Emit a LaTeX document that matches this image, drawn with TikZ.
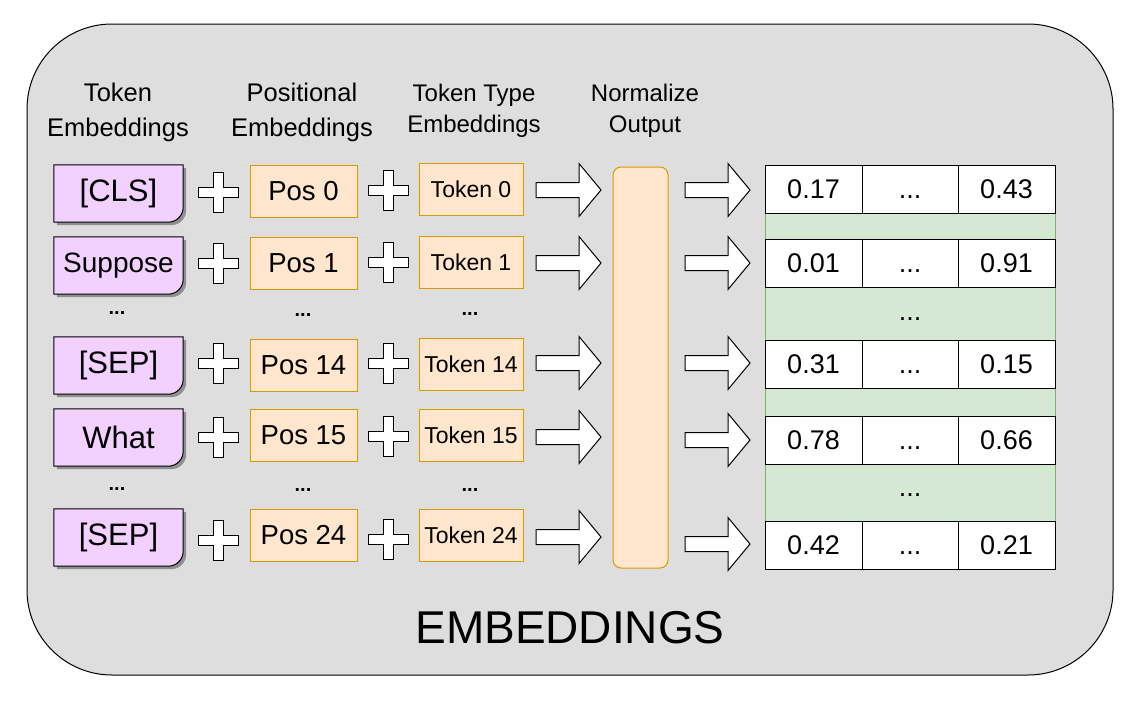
\documentclass[tikz,border=0pt]{standalone}
\usepackage{fontspec}
\setmainfont{Liberation Sans}
\usetikzlibrary{calc}
\pgfdeclarelayer{bg}
\pgfdeclarelayer{mid}
\pgfsetlayers{bg,mid,main}
\definecolor{bggray}{HTML}{DEDEDE}
\definecolor{tokpurple}{HTML}{F2D0FF}
\definecolor{orfill}{HTML}{FFE6CC}
\definecolor{ordraw}{HTML}{D79B00}
\definecolor{grfill}{HTML}{D5E8D4}
\definecolor{grdraw}{HTML}{82B366}
\newcommand{\tokshape}[1]{%
\begin{pgfonlayer}{mid}
\fill[black,opacity=.35] ([shift={(3pt,-3pt)}]#1.north west) -- ([shift={(3pt,-3pt)}]#1.north east) -- ([shift={(3pt,12pt)}]#1.south east) arc[start angle=0,end angle=-90,radius=15pt] -- ([shift={(3pt,-3pt)}]#1.south west) -- cycle;
\draw[fill=tokpurple,line width=1pt] (#1.north west) -- (#1.north east) -- ([yshift=15pt]#1.south east) arc[start angle=0,end angle=-90,radius=15pt] -- (#1.south west) -- cycle;
\end{pgfonlayer}}
\tikzset{
  tokbox/.style={minimum width=129pt,minimum height=57pt,inner sep=0pt,font=\fontsize{31}{34}\selectfont},
  posbox/.style={draw=ordraw,fill=orfill,line width=1pt,minimum width=107pt,minimum height=52pt,inner sep=0pt,font=\fontsize{27.5}{30}\selectfont},
  ttbox/.style={draw=ordraw,fill=orfill,line width=1pt,minimum width=104pt,minimum height=52pt,inner sep=0pt,font=\fontsize{23}{26}\selectfont},
  cell/.style={draw=black,fill=white,line width=1pt,minimum height=48pt,inner sep=0pt,font=\fontsize{27}{30}\selectfont},
  head/.style={align=center,font=\fontsize{25.5}{35}\selectfont},
  headb/.style={align=center,font=\fontsize{24}{31}\selectfont},
  dots/.style={font=\fontsize{20}{22}\selectfont\bfseries},
  pics/plussign/.style={code={\draw[fill=white,line width=1pt] (-5,-20) -- (5,-20) -- (5,-5) -- (20,-5) -- (20,5) -- (5,5) -- (5,20) -- (-5,20) -- (-5,5) -- (-20,5) -- (-20,-5) -- (-5,-5) -- cycle;}},
  pics/blockarrow/.style={code={\draw[fill=white,line width=1pt] (0,-7.5) -- (43,-7.5) -- (43,-26.5) -- (65,0) -- (43,26.5) -- (43,7.5) -- (0,7.5) -- cycle;}},
}
\begin{document}
\begin{tikzpicture}[x=1pt,y=-1pt]
\useasboundingbox (0,0) rectangle (1139,704);
\begin{pgfonlayer}{bg}
\draw[fill=bggray,line width=1pt,rounded corners=85pt] (27,24) rectangle (1113,675);
\end{pgfonlayer}
% headings
\node[head] (h1) at (118,112.5) {Token\\Embeddings};
\node[head] (h2) at (302,112.5) {Positional\\Embeddings};
\node[headb] (h3) at (474,111) {Token Type\\Embeddings};
\node[headb] (h4) at (645,111) {Normalize\\Output};
% token column
\node[tokbox] (w1) at (118.5,193.5) {[CLS]};
\node[tokbox,font=\fontsize{28}{30}\selectfont] (w2) at (118.5,265.5) {Suppose};
\node[tokbox] (w3) at (118.5,365.5) {[SEP]};
\node[tokbox] (w4) at (118.5,437.5) {What};
\node[tokbox] (w5) at (118.5,537.5) {[SEP]};
\tokshape{w1}\tokshape{w2}\tokshape{w3}\tokshape{w4}\tokshape{w5}
\node[dots] (wd1) at (117,313) {...};
\node[dots] (wd2) at (117,489) {...};
% plus signs
\pic at (218,192) {plussign};
\pic at (218,263) {plussign};
\pic at (218,363) {plussign};
\pic at (218,437) {plussign};
\pic at (218,540) {plussign};
\pic at (388,190) {plussign};
\pic at (388,262) {plussign};
\pic at (388,363) {plussign};
\pic at (388,436) {plussign};
\pic at (388,539) {plussign};
% positional
\node[posbox] (p1) at (303.5,191) {Pos 0};
\node[posbox] (p2) at (303.5,263.5) {Pos 1};
\node[posbox] (p3) at (303.5,365) {Pos 14};
\node[posbox] (p4) at (303.5,435.5) {Pos 15};
\node[posbox] (p5) at (303.5,535.5) {Pos 24};
\node[dots] (pd1) at (303,315) {...};
\node[dots] (pd2) at (303,490) {...};
% token type
\node[ttbox] (t1) at (471,189.5) {Token 0};
\node[ttbox] (t2) at (471,262) {Token 1};
\node[ttbox] (t3) at (471,364) {Token 14};
\node[ttbox] (t4) at (471,435) {Token 15};
\node[ttbox] (t5) at (471,535) {Token 24};
\node[dots] (td1) at (470,314) {...};
\node[dots] (td2) at (470,490) {...};
% arrows into normalize
\pic at (536,190) {blockarrow};
\pic at (536,263) {blockarrow};
\pic at (536,363) {blockarrow};
\pic at (536,437) {blockarrow};
\pic at (536,537) {blockarrow};
% normalize bar
\node[draw=ordraw,fill=orfill,line width=1pt,rounded corners=8pt,minimum width=55pt,minimum height=401pt,inner sep=0pt] (norm) at (640.5,367.5) {};
% arrows out
\pic at (685,190) {blockarrow};
\pic at (685,263) {blockarrow};
\pic at (685,363) {blockarrow};
\pic at (685,440) {blockarrow};
\pic at (685,544) {blockarrow};
% table
\node[draw=grdraw,fill=grfill,line width=1pt,minimum width=290pt,minimum height=404pt,inner sep=0pt] (tbl) at (910,367) {};
\foreach \r/\y/\a/\b in {1/189/0.17/0.43, 2/263/0.01/0.91, 3/364/0.31/0.15, 4/440/0.78/0.66, 5/545/0.42/0.21}{
  \node[cell,minimum width=97pt] (c\r a) at (813.5,\y) {\a};
  \node[cell,minimum width=96pt] (c\r b) at (910,\y) {\vphantom{0}...};
  \node[cell,minimum width=97pt] (c\r c) at (1006.5,\y) {\b};
}
\node[font=\fontsize{27}{30}\selectfont] (gd1) at (910,319) {...};
\node[font=\fontsize{27}{30}\selectfont] (gd2) at (910,495) {...};
% title
\node[font=\fontsize{46}{50}\selectfont] (title) at (570,628) {EMBEDDINGS};
\end{tikzpicture}
\end{document}
